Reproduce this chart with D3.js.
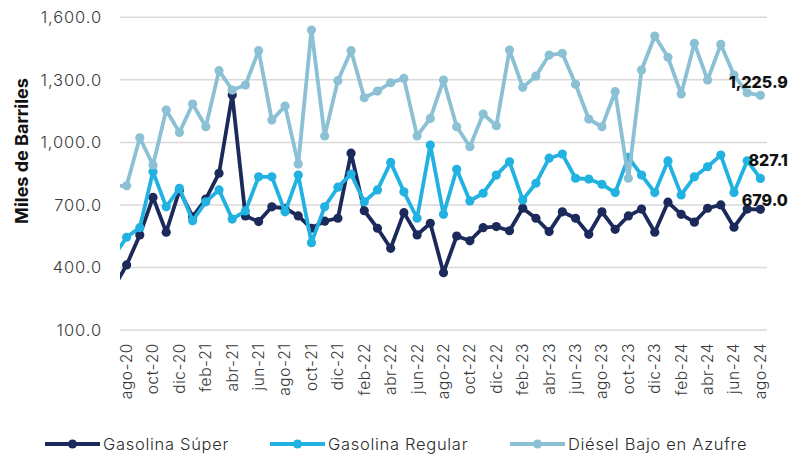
<!DOCTYPE html>
<html>
<head>
<meta charset="utf-8">
<script src="https://cdn.jsdelivr.net/npm/d3@7"></script>
<style>
  body { margin: 0; background: #ffffff; }
  svg { display: block; }
</style>
</head>
<body>
<svg id="chart" width="795" height="455"></svg>
<script>
// Monthly volumes in thousands of barrels. The first entry (jul-20) only
// feeds the lead-in segment that runs off the left edge of the plot.
const months = [
  "jul-20","ago-20","sep-20","oct-20","nov-20","dic-20",
  "ene-21","feb-21","mar-21","abr-21","may-21","jun-21","jul-21","ago-21","sep-21","oct-21","nov-21","dic-21",
  "ene-22","feb-22","mar-22","abr-22","may-22","jun-22","jul-22","ago-22","sep-22","oct-22","nov-22","dic-22",
  "ene-23","feb-23","mar-23","abr-23","may-23","jun-23","jul-23","ago-23","sep-23","oct-23","nov-23","dic-23",
  "ene-24","feb-24","mar-24","abr-24","may-24","jun-24","jul-24","ago-24"
];

const gasolinaSuper = [
  300, 412, 556, 736, 569, 770,
  643, 728, 852, 1227, 647, 620, 691, 684, 647, 588, 622, 636,
  948, 672, 588, 492, 663, 556, 612, 375, 551, 528, 591, 596,
  576, 684, 636, 572, 667, 636, 559, 667, 583, 647, 680, 569,
  713, 655, 617, 684, 700, 593, 680, 679.0
];

const gasolinaRegular = [
  450, 545, 591, 859, 691, 780,
  624, 715, 772, 632, 671, 835, 835, 667, 843, 519, 691, 785,
  848, 715, 772, 904, 763, 636, 987, 655, 871, 719, 756, 843,
  907, 724, 804, 924, 944, 828, 824, 799, 759, 928, 843, 759,
  911, 748, 835, 883, 939, 759, 912, 827.1
];

const dieselBajoAzufre = [
  790, 792, 1022, 891, 1155, 1048,
  1184, 1075, 1344, 1251, 1275, 1440, 1107, 1174, 896, 1539, 1031, 1296,
  1440, 1214, 1246, 1286, 1307, 1031, 1115, 1299, 1075, 979, 1136, 1080,
  1443, 1264, 1318, 1419, 1427, 1279, 1112, 1075, 1243, 828, 1347, 1510,
  1408, 1232, 1475, 1299, 1470, 1323, 1238, 1225.9
];

const yTicks = [100, 400, 700, 1000, 1300, 1600];
const seriesNames = ["Gasolina Súper", "Gasolina Regular", "Diésel Bajo en Azufre"];
const seriesColors = ["#1b2a5a", "#22b2e2", "#8bc0d5"];

const series = [gasolinaSuper, gasolinaRegular, dieselBajoAzufre].map((values, i) => ({
  name: seriesNames[i],
  color: seriesColors[i],
  points: values.map((v, j) => ({ i: j, v }))
}));

const FONT = "Inter, 'Open Sans', sans-serif";
const svg = d3.select("#chart");

const plot = { left: 120, right: 767, top: 17.3, bottom: 330 };

// Each month sits in the middle of its slot; index 0 falls left of the plot.
const x = d3.scaleLinear()
  .domain([0.5, months.length - 0.5])
  .range([plot.left, plot.right]);

const y = d3.scaleLinear()
  .domain([100, 1600])
  .range([plot.bottom, plot.top]);

// Gridlines
svg.append("g")
  .selectAll("line")
  .data(yTicks)
  .join("line")
  .attr("x1", plot.left)
  .attr("x2", plot.right)
  .attr("y1", d => y(d))
  .attr("y2", d => y(d))
  .attr("stroke", "#d9d9d9")
  .attr("stroke-width", 1.5);

// Y axis labels
const yAxis = d3.axisLeft(y)
  .tickValues(yTicks)
  .tickFormat(d3.format(",.1f"))
  .tickSize(0)
  .tickPadding(0);

const yAxisG = svg.append("g")
  .attr("transform", `translate(102,0)`)
  .call(yAxis);
yAxisG.select(".domain").remove();
yAxisG.selectAll("text")
  .attr("font-family", FONT)
  .attr("font-size", 16.5)
  .attr("font-weight", 300)
  .attr("letter-spacing", 0.9)
  .attr("fill", "#3a3a3a");

// Y axis title
svg.append("text")
  .attr("transform", `translate(28,151) rotate(-90)`)
  .attr("text-anchor", "middle")
  .attr("font-family", FONT)
  .attr("font-size", 18)
  .attr("font-weight", 700)
  .attr("fill", "#111111")
  .text("Miles de Barriles");

// X axis labels: every second month starting at ago-20
const xLabelIdx = d3.range(1, months.length, 2);
svg.append("g")
  .selectAll("text")
  .data(xLabelIdx)
  .join("text")
  .attr("transform", d => `translate(${x(d)},343) rotate(-90)`)
  .attr("text-anchor", "end")
  .attr("dy", "0.35em")
  .attr("font-family", FONT)
  .attr("font-size", 15.5)
  .attr("font-weight", 300)
  .attr("letter-spacing", 0.6)
  .attr("fill", "#3a3a3a")
  .text(d => months[d]);

// Clip so the lead-in month is cut at the plot edge
svg.append("defs").append("clipPath")
  .attr("id", "plot-clip")
  .append("rect")
  .attr("x", plot.left)
  .attr("y", 0)
  .attr("width", plot.right - plot.left)
  .attr("height", 455);

const line = d3.line()
  .x(d => x(d.i))
  .y(d => y(d.v));

const seriesG = svg.append("g").attr("clip-path", "url(#plot-clip)");

series.forEach(s => {
  const g = seriesG.append("g");
  g.append("path")
    .datum(s.points)
    .attr("fill", "none")
    .attr("stroke", s.color)
    .attr("stroke-width", 3.8)
    .attr("stroke-linejoin", "round")
    .attr("d", line);
  g.selectAll("circle")
    .data(s.points)
    .join("circle")
    .attr("cx", d => x(d.i))
    .attr("cy", d => y(d.v))
    .attr("r", 4.6)
    .attr("fill", s.color);
});

// Value labels on the latest month
const fmt = d3.format(",.1f");
const last = months.length - 1;
const labelShift = [-3.5, -12.5, -7.5];
series.forEach((s, i) => {
  const p = s.points[last];
  svg.append("text")
    .attr("x", x(p.i) + 27.5)
    .attr("y", y(p.v) + labelShift[i])
    .attr("text-anchor", "end")
    .attr("font-family", FONT)
    .attr("font-size", 16)
    .attr("font-weight", 800)
    .attr("fill", "#111111")
    .text(fmt(p.v));
});

// Legend
const legendX = [45, 270, 510];
const legend = svg.append("g")
  .selectAll("g")
  .data(series)
  .join("g")
  .attr("transform", (d, i) => `translate(${legendX[i]},444)`);
legend.append("line")
  .attr("x1", 0).attr("x2", 55)
  .attr("stroke", d => d.color)
  .attr("stroke-width", 3.8);
legend.append("circle")
  .attr("cx", 27.5)
  .attr("r", 4.6)
  .attr("fill", d => d.color);
legend.append("text")
  .attr("x", 58)
  .attr("dy", "0.35em")
  .attr("font-family", FONT)
  .attr("font-size", 16.5)
  .attr("font-weight", 300)
  .attr("letter-spacing", 0.7)
  .attr("fill", "#2a2a2a")
  .text(d => d.name);
</script>
</body>
</html>
